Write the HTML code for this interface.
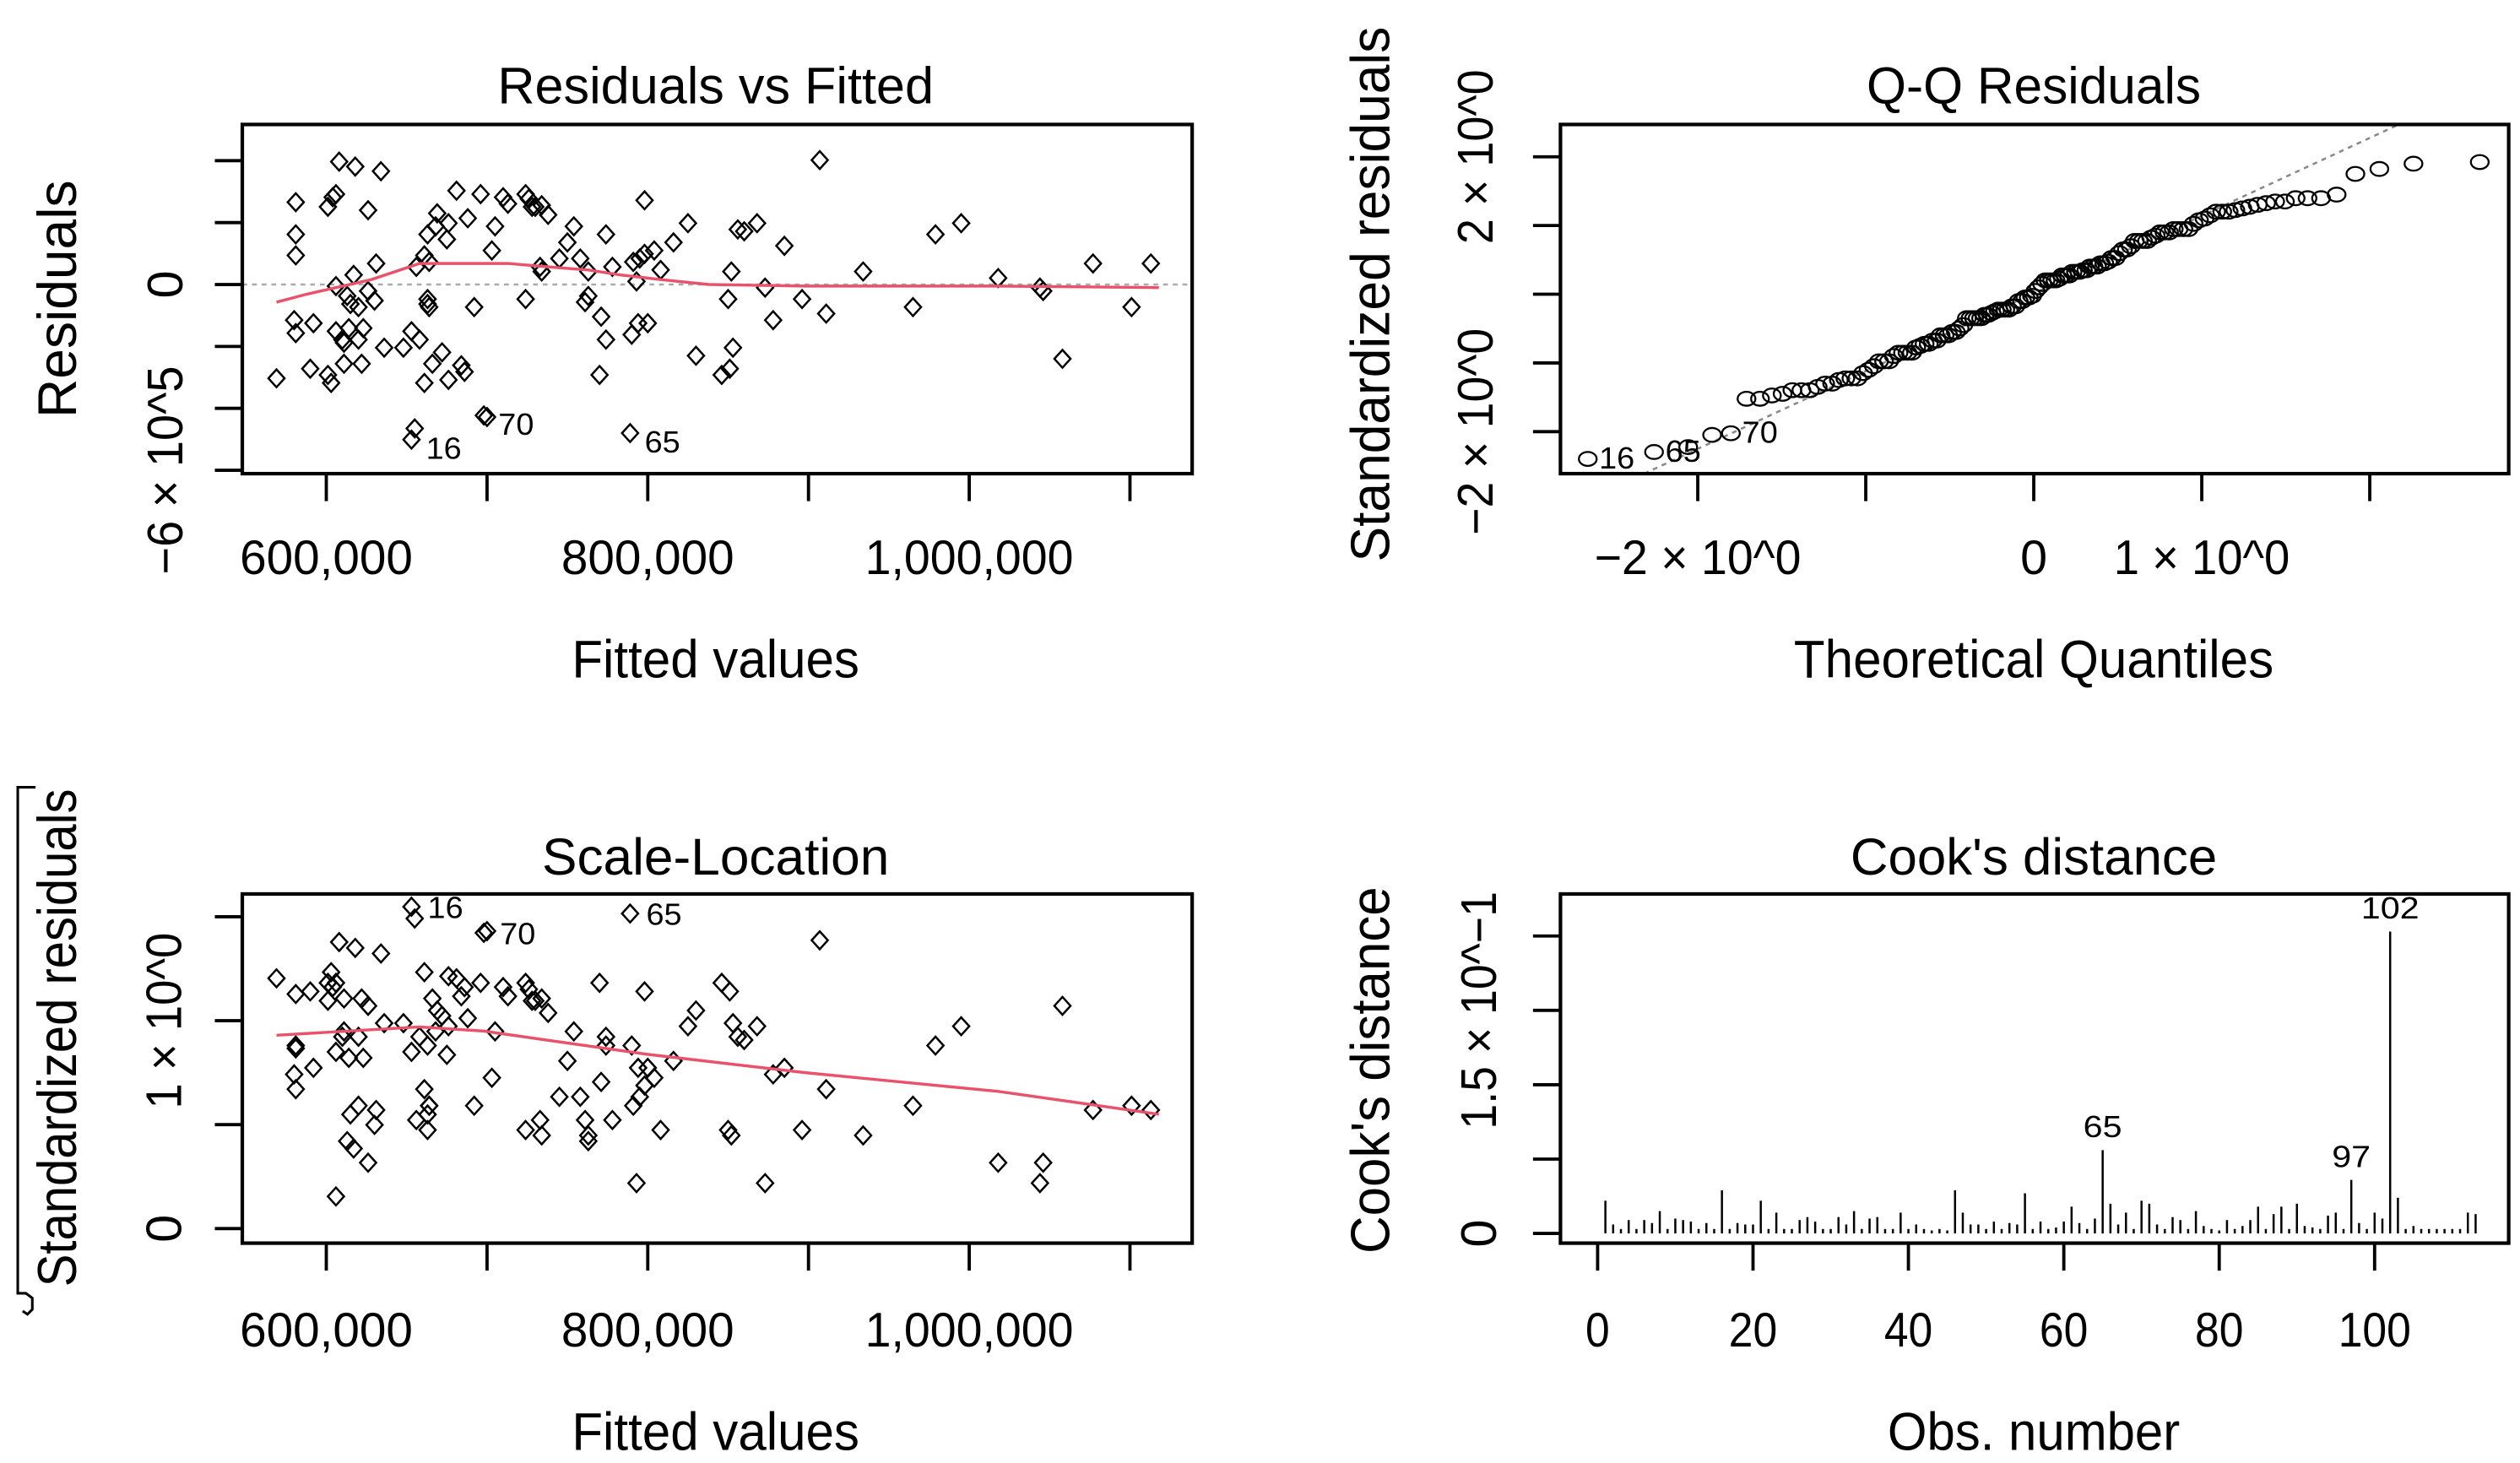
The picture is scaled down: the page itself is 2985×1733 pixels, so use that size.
<!DOCTYPE html>
<html><head><meta charset="utf-8"><style>
html,body{margin:0;padding:0;background:#fff;}
svg{display:block;}
text{font-family:"Liberation Sans",Arial,sans-serif;fill:#000;}
</style></head>
<body>
<svg id="fig" xmlns="http://www.w3.org/2000/svg" width="2985" height="1733" viewBox="0 0 1560 905" preserveAspectRatio="none">
</svg>
<script>
// ---- Residuals vs Fitted data (fitted in thousands, residuals in 1e5) ----
const fittedK = [569,581,581,581,580,581,590,592,601,603,601,604,606,608,618,634,626,610,614,623,613,611,615,620,626,630,620,622,617,606,631,606,611,636,648,653,653,655,658,663,663,664,663,661,664,656,668,669,676,675,672,666,661,676,686,684,688,681,692,698,700,696,710,713,703,705,724,726,728,730,734,738,733,724,734,750,754,745,758,763,763,761,770,774,778,771,774,793,791,798,798,789,790,794,800,795,804,808,816,825,830,850,851,853,852,856,860,868,846,873,878,885,896,907,911,934,965,979,995,1018,1044,1046,1058,1077,1101,1113];
const residE5 = [-3.03,2.66,1.62,0.94,-1.15,-1.57,-2.72,-1.25,-2.92,-3.18,2.51,2.82,2.92,3.97,3.81,3.66,2.40,-1.78,-1.41,-1.41,-0.37,-2.56,-0.63,-0.73,-0.21,-0.52,-1.78,-2.56,0.31,-0.05,0.68,-1.51,-1.88,-2.04,-2.04,-1.51,-5.01,-4.65,-1.78,-0.63,-0.47,-0.73,1.62,0.94,0.73,0.57,1.88,2.30,1.98,1.46,-2.19,-2.56,-3.18,-3.08,-2.82,-2.61,2.14,3.03,-0.73,-4.23,-4.28,2.92,2.82,2.61,1.10,1.88,2.92,2.77,2.51,2.51,2.56,2.25,0.57,-0.47,0.42,1.36,1.88,0.84,0.84,-0.37,0.42,-0.57,-2.92,-1.78,0.57,-1.04,1.62,0.10,0.73,0.99,2.72,-4.80,-1.62,-1.25,-1.25,0.84,1.10,0.47,1.36,1.98,-2.30,-0.47,-2.72,-2.04,0.42,1.78,1.72,1.98,-2.92,-0.10,-1.15,1.25,-0.47,4.02,-0.94,0.42,-0.73,1.62,1.98,0.21,-0.10,-0.21,-2.40,0.68,-0.73,0.68];
const pointIds = {36:'16', 59:'70', 91:'65'};
const smoothFit = [569,588,628,658,688,713,738,763,783,808,838,898,1018,1118];
const smoothRes = [-0.57,-0.31,0.16,0.68,0.68,0.68,0.57,0.47,0.31,0.16,0,-0.05,-0.05,-0.10];
const residSigma = 2.09;
// ---- Scale-location smoother ----
const slSmoothFit = [569,658,698,798,898,1018,1118];
const slSmoothVal = [0.93,0.97,0.95,0.84,0.75,0.66,0.55];
// ---- Cook's distance ----
const cooks = [.022,.006,.003,.009,.003,.009,.007,.015,.003,.01,.009,.008,.003,.007,.003,.029,.003,.007,.006,.006,.022,.003,.014,.003,.003,.009,.011,.008,.003,.003,.011,.006,.015,.003,.01,.011,.003,.003,.014,.003,.006,.003,.002,.003,.002,.029,.014,.006,.006,.003,.008,.003,.007,.006,.027,.003,.008,.003,.004,.008,.018,.007,.003,.01,.056,.02,.006,.014,.003,.022,.02,.006,.003,.011,.009,.003,.015,.005,.003,.002,.009,.003,.005,.009,.018,.003,.013,.018,.003,.02,.005,.004,.003,.012,.014,.003,.036,.007,.003,.014,.01,.203,.024,.003,.005,.003,.003,.003,.003,.003,.003,.014,.013];
const cookLabels = {65:'65',97:'97',102:'102'};
// ---- tick labels ----
const fitTicks = [600,700,800,900,1000,1100];
const fitTickLabels = {600:'600,000',800:'800,000',1000:'1,000,000'};
const resTicks = [4,2,0,-2,-4,-6];
const qqXTicks = [-2,-1,0,1,2];
const qqYTicks = [-2,-1,0,1,2];
const slTicks = [0,0.5,1,1.5];
const cookXTicks = [0,20,40,60,80,100];
const cookYTicks = [0,0.05,0.1,0.15,0.2];

const NS='http://www.w3.org/2000/svg';
const svg=document.getElementById('fig');
function mk(tag,attrs,parent){const e=document.createElementNS(NS,tag);for(const k in attrs)e.setAttribute(k,attrs[k]);(parent||svg).appendChild(e);return e;}
function txt(s,x,y,size,len,rot,parent){
  const t=mk('text',{x:x,y:y,'font-size':size,'text-anchor':'middle'},parent);
  if(len){t.setAttribute('textLength',len);t.setAttribute('lengthAdjust','spacingAndGlyphs');}
  if(rot)t.setAttribute('transform','rotate(-90 '+x+' '+y+')');
  t.textContent=s;return t;}

// scales
const p1x=f=>202+(f-600)*0.995, p1y=r=>176-r*19.15;
const p3y=s=>760-s*128.6;
const p2x=q=>1259+q*104, p2y=s=>182-s*42.5;
const p4x=i=>989+i*4.81, p4y=c=>763-c*920;
function diamond(g,cx,cy){const p=mk('polygon',{points:`${cx},${cy-5.5} ${cx+5},${cy} ${cx},${cy+5.5} ${cx-5},${cy}`,fill:'none',stroke:'#000','stroke-width':1.3},g);return p;}

// ========== Panel 1 ==========
const g1=mk('g',{});


let t=txt('Residuals vs Fitted',443,64,32,270,false,g1);


let l=mk('line',{x1:150,x2:738,y1:p1y(0),y2:p1y(0),stroke:'#aaa','stroke-width':1.3,'stroke-dasharray':'3 3'},g1);


fittedK.forEach((f,i)=>{const d=diamond(g1,p1x(f),p1y(residE5[i]));


if(pointIds[i]){const lb=txt(pointIds[i],p1x(f)+20,p1y(residE5[i])+12,19,22,false,g1);

}});
let pl=mk('polyline',{points:smoothFit.map((f,i)=>p1x(f)+','+p1y(smoothRes[i])).join(' '),fill:'none',stroke:'#e8536b','stroke-width':1.8},g1);


let b=mk('rect',{x:150,y:77,width:588,height:216,fill:'none',stroke:'#000','stroke-width':2.2},g1);


fitTicks.forEach(v=>{const x=p1x(v);
const tk=mk('line',{x1:x,x2:x,y1:293,y2:310,stroke:'#000','stroke-width':2},g1);


if(fitTickLabels[v]){const s=fitTickLabels[v];const lb=txt(s,x,355,30,s.length>7?129:107,false,g1);

}});
resTicks.forEach(v=>{const y=p1y(v);
const tk=mk('line',{x1:133,x2:150,y1:y,y2:y,stroke:'#000','stroke-width':2},g1);

});
t=txt('0',113,p1y(0),31,null,true,g1);


t=txt('−6 × 10^5',113,p1y(-6),31,129,true,g1);


t=txt('Fitted values',443,419,33,178,false,g1);


t=txt('Residuals',47,185,34,147,true,g1);



// ========== Panel 2: Q-Q ==========
function qnorm(p){const a=[-39.6968302866538,220.946098424521,-275.928510446969,138.357751867269,-30.6647980661472,2.50662827745924],
b=[-54.4760987982241,161.585836858041,-155.698979859887,66.8013118877197,-13.2806815528857],
c=[-0.00778489400243029,-0.322396458041136,-2.40075827716184,-2.54973253934373,4.37466414146497,2.93816398269878],
d=[0.00778469570904146,0.32246712907004,2.445134137143,3.75440866190742];
const pl=0.02425;let q,r;
if(p<pl){q=Math.sqrt(-2*Math.log(p));return(((((c[0]*q+c[1])*q+c[2])*q+c[3])*q+c[4])*q+c[5])/((((d[0]*q+d[1])*q+d[2])*q+d[3])*q+1);}
if(p>1-pl){q=Math.sqrt(-2*Math.log(1-p));return-(((((c[0]*q+c[1])*q+c[2])*q+c[3])*q+c[4])*q+c[5])/((((d[0]*q+d[1])*q+d[2])*q+d[3])*q+1);}
q=p-0.5;r=q*q;return(((((a[0]*r+a[1])*r+a[2])*r+a[3])*r+a[4])*r+a[5])*q/(((((b[0]*r+b[1])*r+b[2])*r+b[3])*r+b[4])*r+1);}
const g2=mk('g',{});


t=txt('Q-Q Residuals',1259,64,32,207,false,g2);


const n=residE5.length;
const order=residE5.map((v,i)=>i).sort((a,b)=>residE5[a]-residE5[b]);
const stdSorted=order.map(i=>residE5[i]/residSigma);
const theo=stdSorted.map((v,k)=>qnorm((k+1-0.5)/n));
// qqline through quartiles
const qa=stdSorted[Math.floor(n*0.25)], qb=stdSorted[Math.floor(n*0.75)];
const ta=qnorm(0.25), tb=qnorm(0.75);
const slope=(qb-qa)/(tb-ta), icpt=qa-slope*ta;
const cp=mk('clipPath',{id:'qqclip'},g2);
mk('rect',{x:966,y:77,width:587,height:216},cp);
l=mk('line',{x1:p2x(-3),y1:p2y(icpt-3*slope),x2:p2x(3),y2:p2y(icpt+3*slope),stroke:'#888','stroke-width':1.3,'stroke-dasharray':'3 3','clip-path':'url(#qqclip)'},g2);


stdSorted.forEach((s,k)=>{const e=mk('ellipse',{cx:p2x(theo[k]),cy:p2y(s),rx:5.5,ry:4.3,fill:'none',stroke:'#000','stroke-width':1.2},g2);


const id=pointIds[order[k]];
if(id){const lb=txt(id,p2x(theo[k])+18,p2y(s)+6,19,22,false,g2);

}});
b=mk('rect',{x:966,y:77,width:587,height:216,fill:'none',stroke:'#000','stroke-width':2.2},g2);


qqXTicks.forEach(v=>{const x=p2x(v);
const tk=mk('line',{x1:x,x2:x,y1:293,y2:310,stroke:'#000','stroke-width':2},g2);

});
t=txt('−2 × 10^0',p2x(-2),355,30,128,false,g2);


t=txt('0',p2x(0),355,30,null,false,g2);


t=txt('1 × 10^0',p2x(1),355,30,109,false,g2);


qqYTicks.forEach(v=>{const y=p2y(v);
const tk=mk('line',{x1:949,x2:966,y1:y,y2:y,stroke:'#000','stroke-width':2},g2);

});
t=txt('2 × 10^0',924,p2y(2),31,108,true,g2);


t=txt('−2 × 10^0',924,p2y(-2),31,128,true,g2);


t=txt('Theoretical Quantiles',1259,419,33,297,false,g2);


t=txt('Standardized residuals',860,182,34,331,true,g2);



// ========== Panel 3: Scale-Location ==========
const g3=mk('g',{});


t=txt('Scale-Location',443,541,32,215,false,g3);


fittedK.forEach((f,i)=>{const s=Math.sqrt(Math.abs(residE5[i]/residSigma));
const d=diamond(g3,p1x(f),p3y(s));


if(pointIds[i]){const lb=txt(pointIds[i],p1x(f)+21,p3y(s)+7,19,22,false,g3);

}});
pl=mk('polyline',{points:slSmoothFit.map((f,i)=>p1x(f)+','+p3y(slSmoothVal[i])).join(' '),fill:'none',stroke:'#e8536b','stroke-width':1.8},g3);


b=mk('rect',{x:150,y:553,width:588,height:216,fill:'none',stroke:'#000','stroke-width':2.2},g3);


fitTicks.forEach(v=>{const x=p1x(v);
const tk=mk('line',{x1:x,x2:x,y1:769,y2:786,stroke:'#000','stroke-width':2},g3);


if(fitTickLabels[v]){const s=fitTickLabels[v];const lb=txt(s,x,833,30,s.length>7?129:107,false,g3);

}});
slTicks.forEach(v=>{const y=p3y(v);
const tk=mk('line',{x1:133,x2:150,y1:y,y2:y,stroke:'#000','stroke-width':2},g3);

});
t=txt('0',112,p3y(0),31,null,true,g3);


t=txt('1 × 10^0',112,p3y(1),31,109,true,g3);


t=txt('Fitted values',443,897,33,178,false,g3);


t=txt('Standardized residuals',47,642,34,308,true,g3);


pl=mk('polyline',{points:'22,487 11,487 11,800 16,800 20,803 20,810 17,813 14,811',fill:'none',stroke:'#000','stroke-width':1.6},g3);



// ========== Panel 4: Cook's distance ==========
const g4=mk('g',{});


t=txt("Cook's distance",1259,541,32,227,false,g4);


cooks.forEach((c,i)=>{const x=p4x(i+1);
const ln=mk('line',{x1:x,x2:x,y1:p4y(0),y2:p4y(c),stroke:'#000','stroke-width':1.3},g4);


if(cookLabels[i+1]){const s=cookLabels[i+1];const lb=txt(s,x,p4y(c)-8,19,s.length*12,false,g4);

}});
b=mk('rect',{x:966,y:553,width:587,height:216,fill:'none',stroke:'#000','stroke-width':2.2},g4);


cookXTicks.forEach(v=>{const x=p4x(v);
const tk=mk('line',{x1:x,x2:x,y1:769,y2:786,stroke:'#000','stroke-width':2},g4);


const s=String(v);const lb=txt(s,x,833,30,s.length*15,false,g4);

});
cookYTicks.forEach(v=>{const y=p4y(v);
const tk=mk('line',{x1:949,x2:966,y1:y,y2:y,stroke:'#000','stroke-width':2},g4);

});
t=txt('0',926,p4y(0),31,null,true,g4);


t=txt('1.5 × 10^−1',926,p4y(0.15),31,147,true,g4);


t=txt('Obs. number',1259,897,33,181,false,g4);


t=txt("Cook's distance",860,662,34,227,true,g4);


</script>
</body></html>
